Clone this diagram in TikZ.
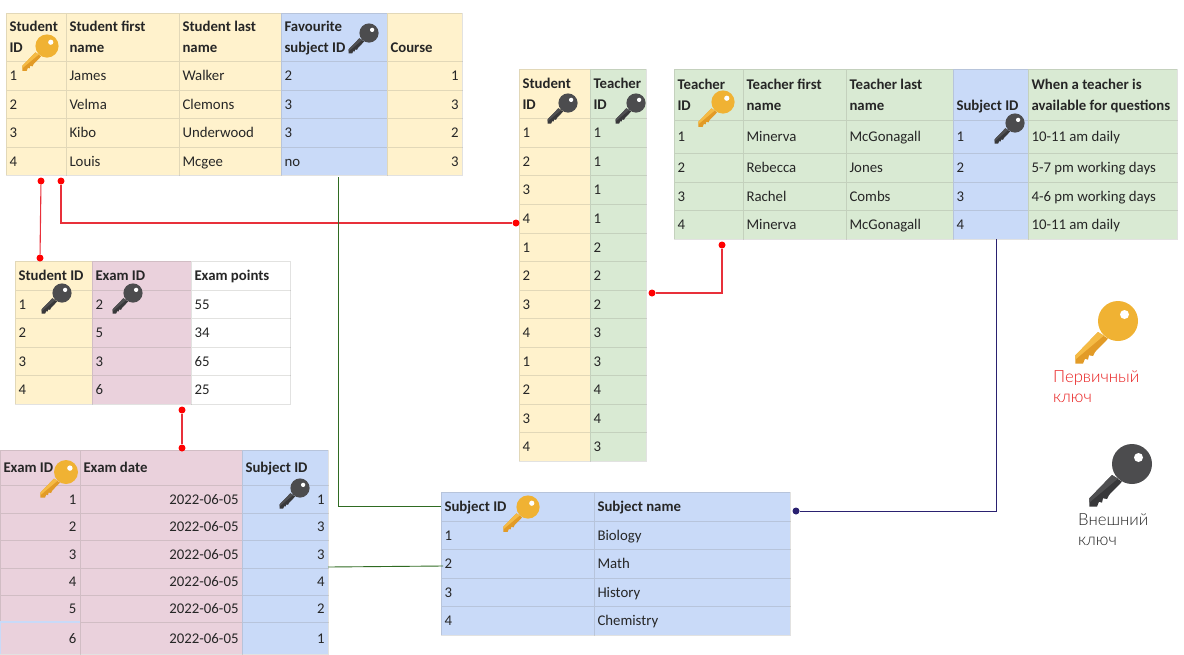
\documentclass[tikz,border=0pt]{standalone}
\usepackage{fontspec}
\setmainfont{Carlito}
\newfontfamily\legendfont{Lato Light}
\definecolor{celly}{HTML}{FFF2CC}
\definecolor{cellb}{HTML}{C9DAF8}
\definecolor{cellp}{HTML}{EAD1DC}
\definecolor{cellg}{HTML}{D9EAD3}
\definecolor{gridc}{HTML}{707068}
\definecolor{textc}{HTML}{262626}
\definecolor{linered}{HTML}{E8303A}
\definecolor{legendred}{HTML}{E81C1C}
\definecolor{linegreen}{HTML}{2F6B22}
\definecolor{linenavy}{HTML}{2A2170}
\newcommand{\cellstrut}{\rule[-5.5pt]{0pt}{21pt}}
\tikzset{
  cell/.style={draw=gridc,draw opacity=.2,line width=1pt,inner sep=0pt,outer sep=0pt,text=textc,
    font=\fontsize{14.8}{21}\selectfont},
  head/.style={font=\bfseries\fontsize{14.8}{21}\selectfont},
  reddot/.style={circle,fill=red,inner sep=0pt,minimum size=7pt},
  navydot/.style={circle,fill=linenavy,inner sep=0pt,minimum size=7pt},
  redline/.style={linered,line width=1.1pt},
  greenline/.style={linegreen,line width=0.9pt},
  navyline/.style={linenavy,line width=1pt},
  legendtext/.style={font=\legendfont\fontsize{16.7}{20}\selectfont,align=left,anchor=north west,inner sep=0pt},
  goldkey/.pic={\keyshape{F0B233}{E29B27}{F5BB45}},
  darkkey/.pic={\keyshape{4C4C4E}{38383A}{505052}},
}
% key with head at the origin, drawn at the size of the legend
\newcommand{\keyshape}[3]{
  \definecolor{keya}{HTML}{#1}\definecolor{keyb}{HTML}{#2}\definecolor{keyc}{HTML}{#3}
  \fill[keyb] (-20,11) -- (-42.6,34.3) -- (-42.6,42.7) -- (-35,42.7) -- (-33,37.7) -- (-30,38.7)
    -- (-29,34.3) -- (-25,35) -- (-23,31) -- (-10,17.7) -- cycle;
  \fill[keyc] (-20,11) -- (-42.6,34.3) -- (-42.6,38.5) -- (-14,14.5) -- cycle;
  \fill[keya] (0,0) circle (20);
  \fill[white] (6.5,-6.5) circle (4.5);
}
% name, x0, y0, x1, y1, fill, alignment, text
\newcommand{\tabcell}[8]{
  \pgfmathsetlengthmacro\cellw{#4-#2}
  \pgfmathsetlengthmacro\cellh{#5-#3}
  \pgfmathsetlengthmacro\cellt{#4-#2-7}
  \node[cell,fill=#6,minimum width=\cellw,minimum height=\cellh,text width=\cellt,align=#7]
    (#1) at ({(#2+#4)/2},{(#3+#5)/2}) {\cellstrut #8\cellstrut};
}
\newcommand{\tabhead}[7]{
  \pgfmathsetlengthmacro\cellw{#4-#2}
  \pgfmathsetlengthmacro\cellh{#5-#3}
  \pgfmathsetlengthmacro\cellt{#4-#2-7}
  \node[cell,head,fill=#6,minimum width=\cellw,minimum height=\cellh,text width=\cellt,align=flush left]
    (#1) at ({(#2+#4)/2},{(#3+#5)/2}) {\cellstrut #7\cellstrut};
}
\begin{document}
\begin{tikzpicture}[x=1pt,y=-1pt]
\useasboundingbox (0,0) rectangle (1184,654);

% Students
\tabhead{sth1}{6}{13}{66}{61}{celly}{Student\\ID}
\tabhead{sth2}{66}{13}{179}{61}{celly}{Student first\\name}
\tabhead{sth3}{179}{13}{281}{61}{celly}{Student last\\name}
\tabhead{sth4}{281}{13}{387}{61}{cellb}{Favourite\\subject ID}
\tabhead{sth5}{387}{13}{462}{61}{celly}{\mbox{}\\Course}
\foreach \n/\ya/\yb/\a/\b/\c/\d/\e in {1/61/90/1/James/Walker/2/1,2/90/118/2/Velma/Clemons/3/3,
    3/118/147/3/Kibo/Underwood/3/2,4/147/175/4/Louis/Mcgee/no/3} {
  \tabcell{sta\n}{6}{\ya}{66}{\yb}{celly}{flush left}{\a}
  \tabcell{stb\n}{66}{\ya}{179}{\yb}{celly}{flush left}{\b}
  \tabcell{stc\n}{179}{\ya}{281}{\yb}{celly}{flush left}{\c}
  \tabcell{std\n}{281}{\ya}{387}{\yb}{cellb}{flush left}{\d}
  \tabcell{ste\n}{387}{\ya}{462}{\yb}{celly}{flush right}{\e}
}

% Exam points
\tabhead{eph1}{15}{261}{92}{290}{celly}{Student ID}
\tabhead{eph2}{92}{261}{191}{290}{cellp}{Exam ID}
\tabhead{eph3}{191}{261}{290}{290}{white}{Exam points}
\foreach \n/\ya/\yb/\a/\b/\c in {1/290/318/1/2/55,2/318/347/2/5/34,3/347/375/3/3/65,4/375/404/4/6/25} {
  \tabcell{epa\n}{15}{\ya}{92}{\yb}{celly}{flush left}{\a}
  \tabcell{epb\n}{92}{\ya}{191}{\yb}{cellp}{flush left}{\b}
  \tabcell{epc\n}{191}{\ya}{290}{\yb}{white}{flush left}{\c}
}

% Exams
\tabhead{exh1}{0}{450}{80}{485}{cellp}{Exam ID}
\tabhead{exh2}{80}{450}{242}{485}{cellp}{Exam date}
\tabhead{exh3}{242}{450}{328}{485}{cellb}{Subject ID}
\foreach \n/\ya/\yb/\a/\c in {1/485/513/1/1,2/513/540/2/3,3/540/568/3/3,4/568/595/4/4,5/595/622/5/2,6/622/654/6/1} {
  \tabcell{exa\n}{0}{\ya}{80}{\yb}{cellp}{flush right}{\a}
  \tabcell{exb\n}{80}{\ya}{242}{\yb}{cellp}{flush right}{2022-06-05}
  \tabcell{exc\n}{242}{\ya}{328}{\yb}{cellb}{flush right}{\c}
}
\draw[cellb,line width=1.5pt] (exa6.south west) -- (exa6.north west) -- (exa6.north east);

% Students and teachers
\tabhead{lnh1}{519}{69}{590}{118}{celly}{Student\\ID}
\tabhead{lnh2}{590}{69}{646}{118}{cellg}{Teacher\\ID}
\foreach \n/\ya/\yb/\a/\b in {1/118/147/1/1,2/147/175/2/1,3/175/204/3/1,4/204/233/4/1,5/233/261/1/2,6/261/290/2/2,
    7/290/318/3/2,8/318/347/4/3,9/347/375/1/3,10/375/404/2/4,11/404/432/3/4,12/432/461/4/3} {
  \tabcell{lna\n}{519}{\ya}{590}{\yb}{celly}{flush left}{\a}
  \tabcell{lnb\n}{590}{\ya}{646}{\yb}{cellg}{flush left}{\b}
}

% Teachers
\tabhead{teh1}{674}{69}{743}{120}{cellg}{Teacher\\ID}
\tabhead{teh2}{743}{69}{846}{120}{cellg}{Teacher first\\name}
\tabhead{teh3}{846}{69}{953}{120}{cellg}{Teacher last\\name}
\tabhead{teh4}{953}{69}{1028}{120}{cellb}{\mbox{}\\Subject ID}
\tabhead{teh5}{1028}{69}{1177}{120}{cellg}{When a teacher is\\available for questions}
\foreach \n/\ya/\yb/\b/\c/\e in {1/120/153/Minerva/McGonagall/10-11 am daily,2/153/182/Rebecca/Jones/5-7 pm working days,
    3/182/210/Rachel/Combs/4-6 pm working days,4/210/239/Minerva/McGonagall/10-11 am daily} {
  \tabcell{tea\n}{674}{\ya}{743}{\yb}{cellg}{flush left}{\n}
  \tabcell{teb\n}{743}{\ya}{846}{\yb}{cellg}{flush left}{\b}
  \tabcell{tec\n}{846}{\ya}{953}{\yb}{cellg}{flush left}{\c}
  \tabcell{ted\n}{953}{\ya}{1028}{\yb}{cellb}{flush left}{\n}
  \tabcell{tee\n}{1028}{\ya}{1177}{\yb}{cellg}{flush left}{\e}
}

% Subjects
\tabhead{suh1}{441}{492}{594}{521}{cellb}{Subject ID}
\tabhead{suh2}{594}{492}{790}{521}{cellb}{Subject name}
\foreach \n/\ya/\yb/\b in {1/521/549/Biology,2/549/578/Math,3/578/606/History,4/606/635/Chemistry} {
  \tabcell{sua\n}{441}{\ya}{594}{\yb}{cellb}{flush left}{\n}
  \tabcell{sub\n}{594}{\ya}{790}{\yb}{cellb}{flush left}{\b}
}

% Keys
\pic[scale=.58] (kst) at (47,46) {goldkey};
\pic[scale=.48] (kfav) at (369,33) {darkkey};
\pic[scale=.48] (kep1) at (62,293) {darkkey};
\pic[scale=.48] (kep2) at (133,293) {darkkey};
\pic[scale=.6] (kex) at (66,472) {goldkey};
\pic[scale=.48] (kexs) at (300,488) {darkkey};
\pic[scale=.48] (kln1) at (568,103) {darkkey};
\pic[scale=.48] (kln2) at (636,103) {darkkey};
\pic[scale=.58] (kte) at (723,102) {goldkey};
\pic[scale=.48] (kted) at (1015,123) {darkkey};
\pic[scale=.58] (ksu) at (528,507) {goldkey};

% Legend
\pic (lgold) at (1118,321) {goldkey};
\pic (ldark) at (1132,464) {darkkey};
\node[legendtext,text=legendred] (lgtext) at (1053,370) {Первичный\\ключ};
\node[legendtext,text=textc] (ldtext) at (1078,513) {Внешний\\ключ};

% Red connectors
\node[reddot] (da) at (41,181) {};
\node[reddot] (db) at (40,258) {};
\draw[redline] (da) -- (db);
\node[reddot] (dc) at (61,181) {};
\node[reddot] (dd) at (516,223) {};
\draw[redline] (dc) |- (dd);
\node[reddot] (de) at (182,410) {};
\node[reddot] (df) at (182,448) {};
\draw[redline] (de) -- (df);
\node[reddot] (dg) at (652,293) {};
\node[reddot] (dh) at (722,245) {};
\draw[redline] (dg) -| (dh);

% Green connectors
\coordinate (gfav) at (338,177);
\draw[greenline] (gfav) |- (suh1.west);
\coordinate (gex) at (328,567);
\coordinate (gsu) at (443,566);
\draw[greenline] (gex) -- (gsu);

% Blue connector
\coordinate (nte) at (996,239);
\node[navydot] (nsu) at (796,511) {};
\draw[navyline] (nte) |- (nsu);
\end{tikzpicture}
\end{document}
